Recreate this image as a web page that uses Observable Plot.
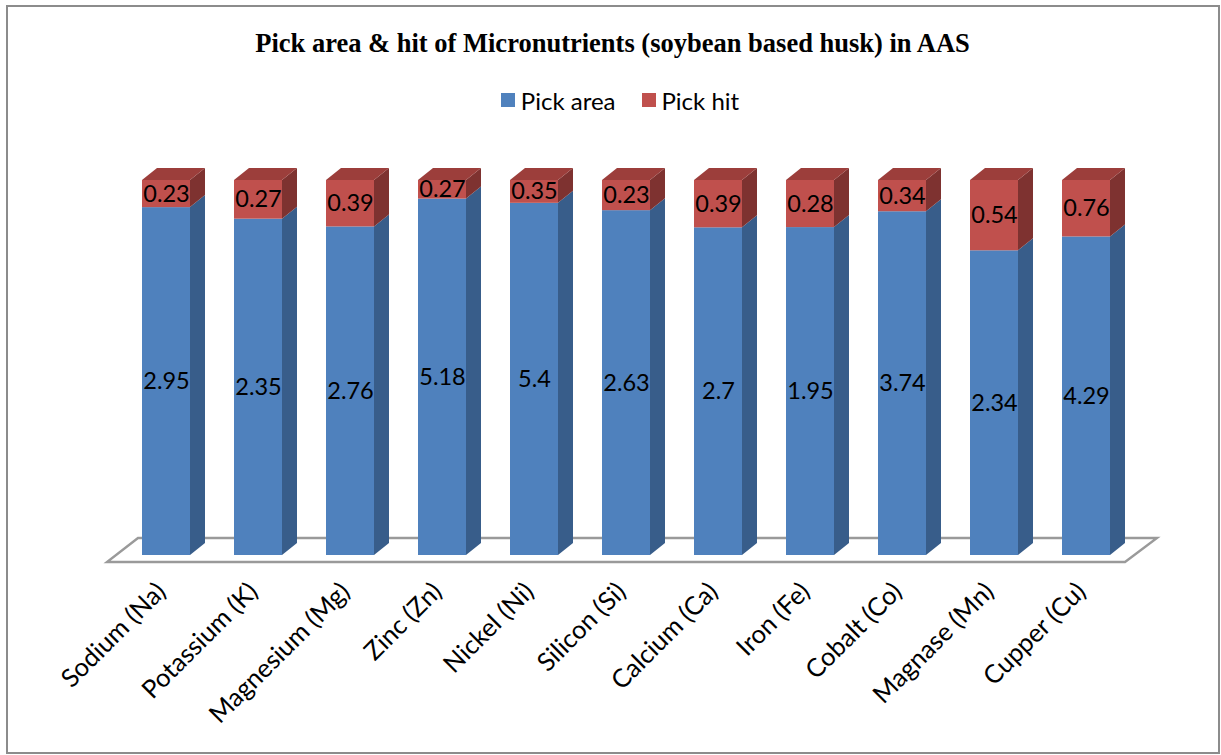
<!DOCTYPE html>
<html>
<head>
<meta charset="utf-8">
<script src="https://cdn.jsdelivr.net/npm/d3@7"></script>
<script src="https://cdn.jsdelivr.net/npm/@observablehq/plot@0.6"></script>
<style>
  html, body { margin: 0; padding: 0; background: #fff; }
  body { position: relative; width: 1221px; height: 755px; overflow: hidden; font-family: Lato, "Open Sans", sans-serif; }
  #border { position: absolute; left: 6px; top: 5px; width: 1214px; height: 749px; border: 2px solid #8c8c8c; box-sizing: border-box; }
  #title { position: absolute; left: 0; top: 28px; width: 1225px; text-align: center; font-family: "Liberation Serif", "Times New Roman", serif; font-weight: bold; font-size: 26.5px; line-height: 30px; color: #000; }
  #legend { position: absolute; left: 0; top: 86px; width: 1240px; height: 28px; display: flex; justify-content: center; align-items: center; font-size: 24px; color: #000; }
  .sw { display: inline-block; width: 14px; height: 14px; margin-right: 6px; }
  .item { display: flex; align-items: center; margin: 0 13px; }
  #chart { position: absolute; left: 0; top: 130px; }
</style>
</head>
<body>
<div id="border"></div>
<div id="title">Pick area &amp; hit of Micronutrients (soybean based husk) in AAS</div>
<div id="legend"></div>
<div id="chart"></div>
<script>
const categories = ["Sodium (Na)", "Potassium (K)", "Magnesium (Mg)", "Zinc (Zn)", "Nickel (Ni)", "Silicon (Si)", "Calcium (Ca)", "Iron (Fe)", "Cobalt (Co)", "Magnase (Mn)", "Cupper (Cu)"];
const seriesNames = ["Pick area", "Pick hit"];
const pickArea = [2.95, 2.35, 2.76, 5.18, 5.4, 2.63, 2.7, 1.95, 3.74, 2.34, 4.29];
const pickHit = [0.23, 0.27, 0.39, 0.27, 0.35, 0.23, 0.39, 0.28, 0.34, 0.54, 0.76];

const frontColors = ["#4F81BD", "#C0504D"];
const sideColors = ["#385D8A", "#7E3230"];
const topColors = ["#3F6797", "#9C3E3B"];

const table = [];
categories.forEach((c, i) => {
  table.push({cat: c, series: seriesNames[0], value: pickArea[i]});
  table.push({cat: c, series: seriesNames[1], value: pickHit[i]});
});

// legend
const legend = document.getElementById("legend");
seriesNames.forEach((s, i) => {
  const it = document.createElement("span");
  it.className = "item";
  it.innerHTML = `<span class="sw" style="background:${frontColors[i]}"></span><span>${s}</span>`;
  legend.appendChild(it);
});

const DX = 15, DY = 12;

const floor = Plot.frame({
  stroke: "none",
  render(index, scales, values, dims) {
    const y0 = scales.y(0);
    const xl = dims.marginLeft, xr = dims.width - dims.marginRight;
    const pts = [[xl - 9, y0 + 7], [xr - 10, y0 + 7], [xr + 22, y0 - 17], [xl + 22, y0 - 17]];
    return d3.create("svg:polygon")
      .attr("points", pts.map(p => p.join(",")).join(" "))
      .attr("fill", "white").attr("stroke", "#9a9a9a").attr("stroke-width", 2.4)
      .node();
  }
});

const bars = Plot.barY(table, Plot.stackY({
  x: "cat", y: "value", z: "series", fill: "series", offset: "normalize", order: seriesNames,
  render(index, scales, values, dims, context, next) {
    const front = next(index, scales, values, dims, context);
    const bw = scales.x.bandwidth();
    const g = d3.create("svg:g");
    for (const i of index) {
      const x0 = values.x[i];
      const top = Math.min(values.y1[i], values.y2[i]);
      const bot = Math.max(values.y1[i], values.y2[i]);
      const si = seriesNames.indexOf(table[i].series);
      g.append("polygon")
        .attr("points", [[x0 + bw, bot], [x0 + bw + DX, bot - DY], [x0 + bw + DX, top - DY], [x0 + bw, top]].map(p => p.join(",")).join(" "))
        .attr("fill", sideColors[si]);
      if (si === seriesNames.length - 1) {
        g.append("polygon")
          .attr("points", [[x0, top], [x0 + DX, top - DY], [x0 + bw + DX, top - DY], [x0 + bw, top]].map(p => p.join(",")).join(" "))
          .attr("fill", topColors[si]);
      }
    }
    g.node().appendChild(front);
    return g.node();
  }
}));

const labels = Plot.text(table, Plot.stackY({
  x: "cat", y: "value", z: "series", offset: "normalize", order: seriesNames,
  text: d => String(d.value), fill: "#000", fontSize: 23.5, fontFamily: "Lato"
}));

const chart = Plot.plot({
  width: 1221,
  height: 615,
  marginTop: 50,
  marginBottom: 190,
  marginLeft: 116,
  marginRight: 86,
  style: {fontFamily: "Lato", background: "transparent", overflow: "visible"},
  x: {domain: categories, paddingInner: 0.48, paddingOuter: 0.24, axis: null},
  y: {domain: [0, 1], axis: null},
  color: {domain: seriesNames, range: frontColors},
  marks: [
    floor,
    bars,
    labels,
    Plot.axisX({tickSize: 0, tickPadding: 32, dx: -5, tickRotate: -45, fontSize: 25.5, fill: "#000", fontFamily: "Lato", label: null})
  ]
});
document.getElementById("chart").appendChild(chart);
</script>
</body>
</html>
